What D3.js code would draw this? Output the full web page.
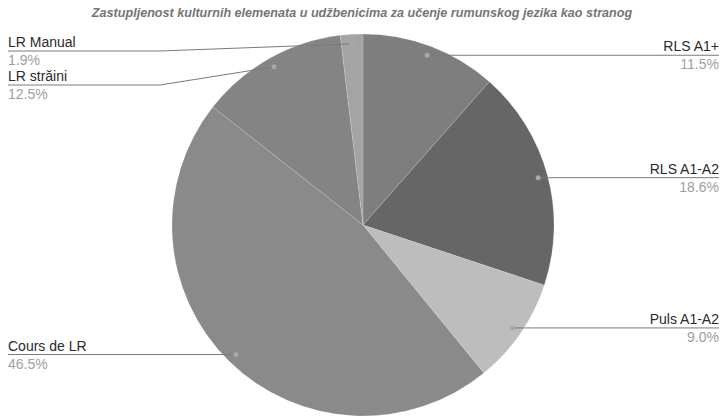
<!DOCTYPE html>
<html>
<head>
<meta charset="utf-8">
<script src="https://cdn.jsdelivr.net/npm/d3@7"></script>
<style>
  body { margin: 0; background: #fff; }
  svg { display: block; font-family: "Liberation Sans", Arial, sans-serif; }
</style>
</head>
<body>
<svg id="chart" width="721" height="416"></svg>
<script>
// data
const categories = ["RLS A1+", "RLS A1-A2", "Puls A1-A2", "Cours de LR", "LR străini", "LR Manual"];
const values = [11.5, 18.6, 9.0, 46.5, 12.5, 1.9];
const colors = ["#7e7e7e", "#666666", "#bdbdbd", "#8a8a8a", "#848484", "#a4a4a4"];
const title = "Zastupljenost kulturnih elemenata u udžbenicima za učenje rumunskog jezika kao stranog";

const W = 721, H = 416;
const cx = 363, cy = 225, R = 191;

const svg = d3.select("#chart");

svg.append("text")
    .attr("x", 362).attr("y", 17)
    .attr("text-anchor", "middle")
    .attr("font-size", 12.6).attr("font-weight", "bold").attr("font-style", "italic")
    .attr("fill", "#757575")
    .text(title);

const rows = categories.map((c, i) => ({ name: c, value: values[i], color: colors[i] }));

const pie = d3.pie().sort(null).value(d => d.value);
const arcs = pie(rows);
const arc = d3.arc().innerRadius(0).outerRadius(R);
const dotArc = d3.arc().innerRadius(R * 0.95).outerRadius(R * 0.95);

const g = svg.append("g").attr("transform", `translate(${cx},${cy})`);
g.selectAll("path.slice")
    .data(arcs)
    .enter().append("path")
    .attr("class", "slice")
    .attr("d", arc)
    .attr("fill", d => d.data.color)
    .attr("stroke", "#fff").attr("stroke-opacity", 0.15).attr("stroke-width", 1);

// labels: dot near the rim, line out to the side
var labels = arcs.map(a => {
    var p = dotArc.centroid(a);
    var mid = (a.startAngle + a.endAngle) / 2;
    return { a: a, px: p[0] + cx, py: p[1] + cy, right: mid < Math.PI, ly: p[1] + cy };
});

// keep side labels apart (rough)
const GAP = 34, TOP = 51;
["left", "right"].forEach(side => {
    var list = labels.filter(l => (side == "right") == l.right).sort((a, b) => a.ly - b.ly);
    var prev = TOP - GAP;
    list.forEach(l => {
        if (l.ly < prev + GAP) l.ly = prev + GAP;
        prev = l.ly;
    });
});

const lg = svg.append("g");
labels.forEach(l => {
    var pts;
    if (l.right) {
        pts = [[l.px, l.py], [l.px + 10, l.ly], [719, l.ly]];
    } else {
        pts = [[l.px, l.py], [160, l.ly], [8, l.ly]];
    }
    lg.append("path")
        .attr("d", d3.line()(pts))
        .attr("fill", "none").attr("stroke", "#7a7a7a").attr("stroke-width", 1);
    lg.append("circle")
        .attr("cx", l.px).attr("cy", l.py).attr("r", 2.5)
        .attr("fill", "#a8a8a8");

    var tx = l.right ? 719 : 8;
    var anchor = l.right ? "end" : "start";
    lg.append("text")
        .attr("x", tx).attr("y", l.ly - 4)
        .attr("text-anchor", anchor)
        .attr("font-size", 14).attr("fill", "#2a2a2a")
        .text(l.a.data.name);
    lg.append("text")
        .attr("x", tx).attr("y", l.ly + 14)
        .attr("text-anchor", anchor)
        .attr("font-size", 14).attr("fill", "#9e9e9e")
        .text(d3.format(".1f")(l.a.data.value) + "%");
});
</script>
</body>
</html>
